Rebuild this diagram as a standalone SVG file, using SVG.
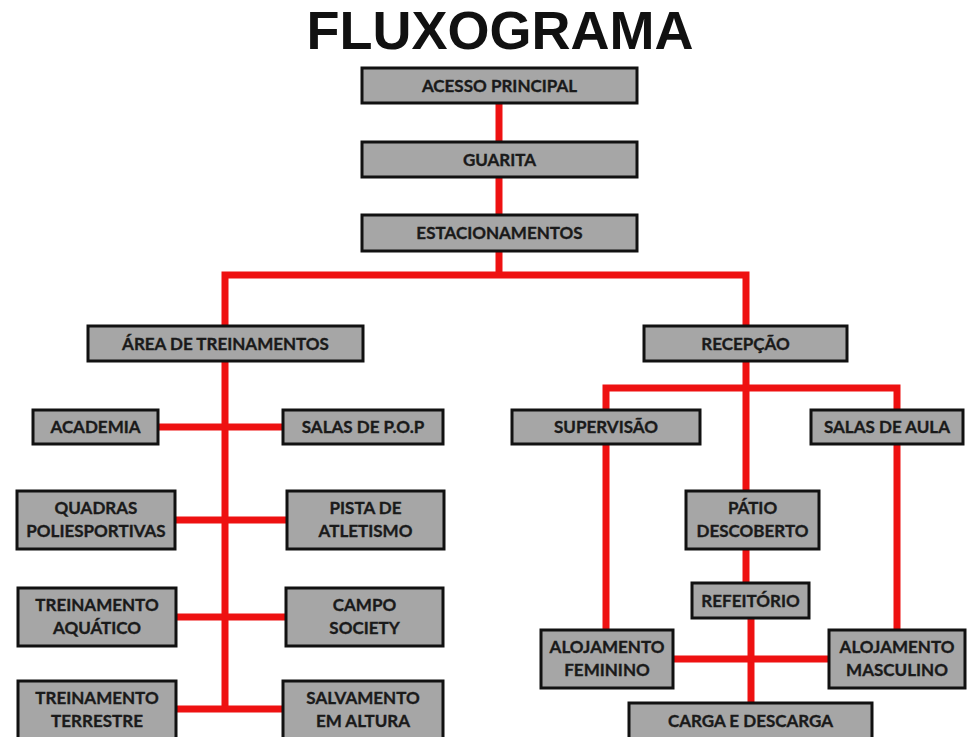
<svg xmlns="http://www.w3.org/2000/svg" width="967" height="737" viewBox="0 0 967 737">
<style>
.bg{fill:#ffffff}
.box{fill:#a6a6a6;stroke:#111;stroke-width:3}
.t{font-family:Lato,"Open Sans","Liberation Sans",sans-serif;font-weight:bold;font-size:17px;fill:#1a1a1a;stroke:#1a1a1a;stroke-width:0.35;text-anchor:middle}
.title{font-family:"Liberation Sans",Arial,sans-serif;font-weight:bold;font-size:54px;fill:#111;text-anchor:middle}
.c{fill:none;stroke:#ee1111;stroke-width:7;stroke-linecap:butt;stroke-linejoin:miter}
</style>
<rect class="bg" x="0" y="0" width="967" height="737"/>
<text class="title" x="500" y="49">FLUXOGRAMA</text>
<g id="connectors">
<path class="c" d="M499,103 V142"/>
<path class="c" d="M499,177 V215"/>
<path class="c" d="M499,251 V275"/>
<path class="c" d="M225,326 V275 H746 V326"/>
<path class="c" d="M225,361 V709"/>
<path class="c" d="M158,427 H283"/>
<path class="c" d="M175,520 H287"/>
<path class="c" d="M176,617 H286"/>
<path class="c" d="M176,709 H283"/>
<path class="c" d="M746,361 V491"/>
<path class="c" d="M606,410 V388 H897 V410"/>
<path class="c" d="M606,444 V630"/>
<path class="c" d="M897,444 V630"/>
<path class="c" d="M746,549 V583"/>
<path class="c" d="M751,618 V703"/>
<path class="c" d="M673,659 H829"/>
</g>
<g id="acesso"><rect class="box" x="362" y="68" width="275" height="35"/><text class="t" x="499.5" y="92">ACESSO PRINCIPAL</text></g>
<g id="guarita"><rect class="box" x="362" y="142" width="275" height="35"/><text class="t" x="499.5" y="166">GUARITA</text></g>
<g id="estacionamentos"><rect class="box" x="362" y="215" width="275" height="36"/><text class="t" x="499.5" y="239">ESTACIONAMENTOS</text></g>
<g id="area"><rect class="box" x="88" y="326" width="275" height="35"/><text class="t" x="225.5" y="350">ÁREA DE TREINAMENTOS</text></g>
<g id="recepcao"><rect class="box" x="644" y="326" width="203" height="35"/><text class="t" x="745.5" y="350">RECEPÇÃO</text></g>
<g id="academia"><rect class="box" x="33" y="410" width="125" height="34"/><text class="t" x="95.5" y="433">ACADEMIA</text></g>
<g id="salaspop"><rect class="box" x="283" y="410" width="160" height="34"/><text class="t" x="363" y="433">SALAS DE P.O.P</text></g>
<g id="supervisao"><rect class="box" x="512" y="410" width="188" height="34"/><text class="t" x="606" y="433">SUPERVISÃO</text></g>
<g id="salasaula"><rect class="box" x="811" y="410" width="152" height="34"/><text class="t" x="887" y="433">SALAS DE AULA</text></g>
<g id="quadras"><rect class="box" x="17" y="491" width="158" height="58"/><text class="t" x="96" y="514">QUADRAS</text><text class="t" x="96" y="537">POLIESPORTIVAS</text></g>
<g id="pista"><rect class="box" x="287" y="491" width="157" height="58"/><text class="t" x="365.5" y="514">PISTA DE</text><text class="t" x="365.5" y="537">ATLETISMO</text></g>
<g id="patio"><rect class="box" x="686" y="491" width="133" height="58"/><text class="t" x="752.5" y="514">PÁTIO</text><text class="t" x="752.5" y="537">DESCOBERTO</text></g>
<g id="aquatico"><rect class="box" x="18" y="588" width="158" height="58"/><text class="t" x="97" y="611">TREINAMENTO</text><text class="t" x="97" y="634">AQUÁTICO</text></g>
<g id="campo"><rect class="box" x="286" y="588" width="157" height="58"/><text class="t" x="364.5" y="611">CAMPO</text><text class="t" x="364.5" y="634">SOCIETY</text></g>
<g id="refeitorio"><rect class="box" x="692" y="583" width="117" height="35"/><text class="t" x="750.5" y="607">REFEITÓRIO</text></g>
<g id="alojfem"><rect class="box" x="541" y="630" width="132" height="58"/><text class="t" x="607" y="653">ALOJAMENTO</text><text class="t" x="607" y="676">FEMININO</text></g>
<g id="alojmasc"><rect class="box" x="829" y="630" width="136" height="58"/><text class="t" x="897" y="653">ALOJAMENTO</text><text class="t" x="897" y="676">MASCULINO</text></g>
<g id="terrestre"><rect class="box" x="18" y="681" width="158" height="58"/><text class="t" x="97" y="704">TREINAMENTO</text><text class="t" x="97" y="727">TERRESTRE</text></g>
<g id="salvamento"><rect class="box" x="283" y="681" width="160" height="58"/><text class="t" x="363" y="704">SALVAMENTO</text><text class="t" x="363" y="727">EM ALTURA</text></g>
<g id="carga"><rect class="box" x="629" y="703" width="243" height="36"/><text class="t" x="750.5" y="727">CARGA E DESCARGA</text></g>
</svg>
